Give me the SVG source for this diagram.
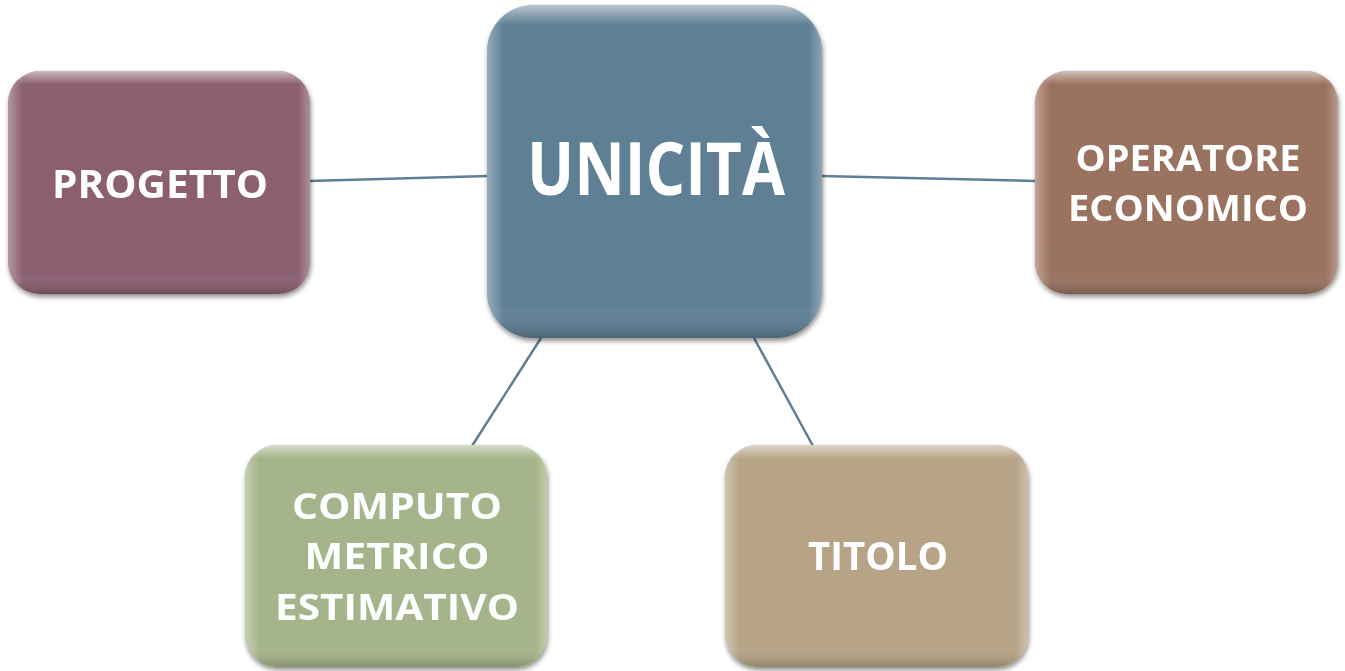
<svg xmlns="http://www.w3.org/2000/svg" width="1345" height="671" viewBox="0 0 1345 671">
<defs>
<filter id="sh" x="-10%" y="-10%" width="125%" height="125%">
<feGaussianBlur in="SourceAlpha" stdDeviation="2.5"/>
<feOffset dx="1" dy="3"/>
<feComponentTransfer><feFuncA type="linear" slope="0.45"/></feComponentTransfer>
<feMerge><feMergeNode/><feMergeNode in="SourceGraphic"/></feMerge>
</filter>
<linearGradient id="gl" x1="0" y1="0" x2="0" y2="1">
<stop offset="0" stop-color="#fff" stop-opacity="0.55"/>
<stop offset="0.06" stop-color="#fff" stop-opacity="0"/>
<stop offset="0.9" stop-color="#fff" stop-opacity="0"/>
<stop offset="1" stop-color="#000" stop-opacity="0.2"/>
</linearGradient>
<linearGradient id="gs" x1="0" y1="0" x2="1" y2="0">
<stop offset="0" stop-color="#fff" stop-opacity="0.35"/>
<stop offset="0.05" stop-color="#fff" stop-opacity="0"/>
<stop offset="0.96" stop-color="#fff" stop-opacity="0"/>
<stop offset="1" stop-color="#fff" stop-opacity="0.3"/>
</linearGradient>
</defs>
<style>
.c{stroke:#5f7f95;stroke-width:2.5;fill:none}
.t{font-family:"Open Sans","Liberation Sans",sans-serif;font-weight:bold;fill:#fff;text-anchor:middle}
.g{fill:url(#gl)}
.s{fill:url(#gs)}
</style>
<g id="connectors">
<line class="c" x1="309" y1="181" x2="488" y2="176"/>
<line class="c" x1="821" y1="176" x2="1036" y2="181"/>
<line class="c" x1="541" y1="338" x2="472" y2="446"/>
<line class="c" x1="754" y1="338" x2="813" y2="446"/>
</g>
<g id="unicita" filter="url(#sh)">
<rect x="487" y="5" width="335" height="333" rx="46" fill="#5f7f95"/>
<rect x="487" y="5" width="335" height="333" rx="46" class="g"/>
<rect x="487" y="5" width="335" height="333" rx="46" class="s"/>
<text class="t" x="656" y="195" font-size="74" textLength="258" lengthAdjust="spacingAndGlyphs">UNICITÀ</text>
</g>
<g id="progetto" filter="url(#sh)">
<rect x="8" y="71" width="302" height="223" rx="32" fill="#8b5f70"/>
<rect x="8" y="71" width="302" height="223" rx="32" class="g"/>
<rect x="8" y="71" width="302" height="223" rx="32" class="s"/>
<text class="t" x="160" y="198" font-size="39" textLength="216" lengthAdjust="spacingAndGlyphs">PROGETTO</text>
</g>
<g id="operatore" filter="url(#sh)">
<rect x="1035" y="71" width="303" height="223" rx="32" fill="#9a7260"/>
<rect x="1035" y="71" width="303" height="223" rx="32" class="g"/>
<rect x="1035" y="71" width="303" height="223" rx="32" class="s"/>
<text class="t" x="1188" y="171" font-size="36" textLength="225" lengthAdjust="spacingAndGlyphs">OPERATORE</text>
<text class="t" x="1188" y="221" font-size="36" textLength="240" lengthAdjust="spacingAndGlyphs">ECONOMICO</text>
</g>
<g id="computo" filter="url(#sh)">
<rect x="245" y="445" width="302" height="222" rx="32" fill="#a5b48a"/>
<rect x="245" y="445" width="302" height="222" rx="32" class="g"/>
<rect x="245" y="445" width="302" height="222" rx="32" class="s"/>
<text class="t" x="397" y="519" font-size="36" textLength="210" lengthAdjust="spacingAndGlyphs">COMPUTO</text>
<text class="t" x="397" y="569" font-size="36" textLength="185" lengthAdjust="spacingAndGlyphs">METRICO</text>
<text class="t" x="397" y="620" font-size="36" textLength="244" lengthAdjust="spacingAndGlyphs">ESTIMATIVO</text>
</g>
<g id="titolo" filter="url(#sh)">
<rect x="725" y="445" width="303" height="222" rx="32" fill="#b7a487"/>
<rect x="725" y="445" width="303" height="222" rx="32" class="g"/>
<rect x="725" y="445" width="303" height="222" rx="32" class="s"/>
<text class="t" x="878" y="570" font-size="39" textLength="140" lengthAdjust="spacingAndGlyphs">TITOLO</text>
</g>
</svg>
